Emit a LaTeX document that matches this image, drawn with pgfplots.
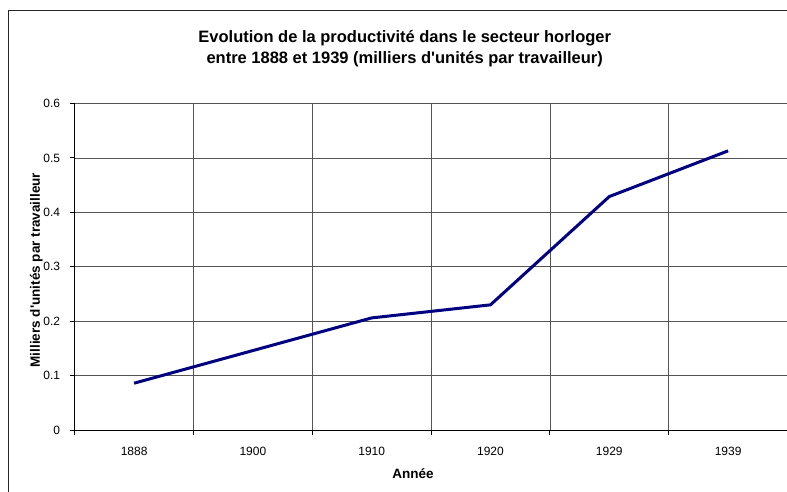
\documentclass[border=0pt]{standalone}
\usepackage{pgfplots}
\pgfplotsset{compat=1.18}
\usepackage{fontspec}
\setmainfont{Liberation Sans}
\definecolor{navyline}{HTML}{000080}
\definecolor{gridc}{HTML}{555555}
\begin{document}
\begin{tikzpicture}[x=1pt,y=1pt]
\useasboundingbox (0,0) rectangle (787,491);
\draw[line width=1.4pt, black!85] (8.5,-5) -- (8.5,480.3) -- (800,480.3);
\begin{axis}[
  at={(74.7pt,61pt)}, anchor=south west,
  scale only axis, width=712.8pt, height=326.5pt,
  xmin=-0.5, xmax=5.5, ymin=0, ymax=0.6,
  axis line style={black, line width=0.9pt},
  axis x line*=bottom, axis y line*=left,
  xtick={0,1,2,3,4,5},
  xticklabels={1888,1900,1910,1920,1929,1939},
  major x tick style={draw=none},
  minor xtick={-0.5,0.5,1.5,2.5,3.5,4.5},
  minor x tick style={black, line width=0.9pt},
  minor tick length=5pt,
  xminorgrids=true,
  minor grid style={gridc, line width=0.8pt},
  ytick={0,0.1,0.2,0.3,0.4,0.5,0.6},
  yticklabels={0,0.1,0.2,0.3,0.4,0.5,0.6},
  ymajorgrids=true,
  major grid style={gridc, line width=0.8pt},
  y tick style={black, line width=0.9pt},
  major tick length=5pt,
  tick align=outside,
  /pgf/number format/assume math mode=true,
  ticklabel style={font=\fontsize{12}{14}\selectfont},
  yticklabel style={xshift=-6pt},
  xticklabel style={yshift=-9pt},
  xlabel={Année},
  xlabel style={font=\bfseries\fontsize{13.5}{15}\selectfont, at={(axis description cs:0.4745,-0.1348)}, anchor=center},
  ylabel={Milliers d\textquotesingle unités par travailleur},
  ylabel style={font=\bfseries\fontsize{13.5}{15}\selectfont, at={(axis description cs:-0.0537,0.49)}, anchor=center, rotate=0},
  title={Evolution de la productivité dans le secteur horloger\\entre 1888 et 1939 (milliers d\textquotesingle unités par travailleur)},
  title style={font=\bfseries\fontsize{16.5}{21}\selectfont, align=center, at={(axis description cs:0.463,1.1485)}, anchor=center},
  clip=false,
]
\addplot[navyline, line width=3pt, line join=round] coordinates {
  (0,0.086) (1,0.146) (2,0.206) (3,0.230) (4,0.429) (5,0.513)
};
\end{axis}
\end{tikzpicture}
\end{document}
